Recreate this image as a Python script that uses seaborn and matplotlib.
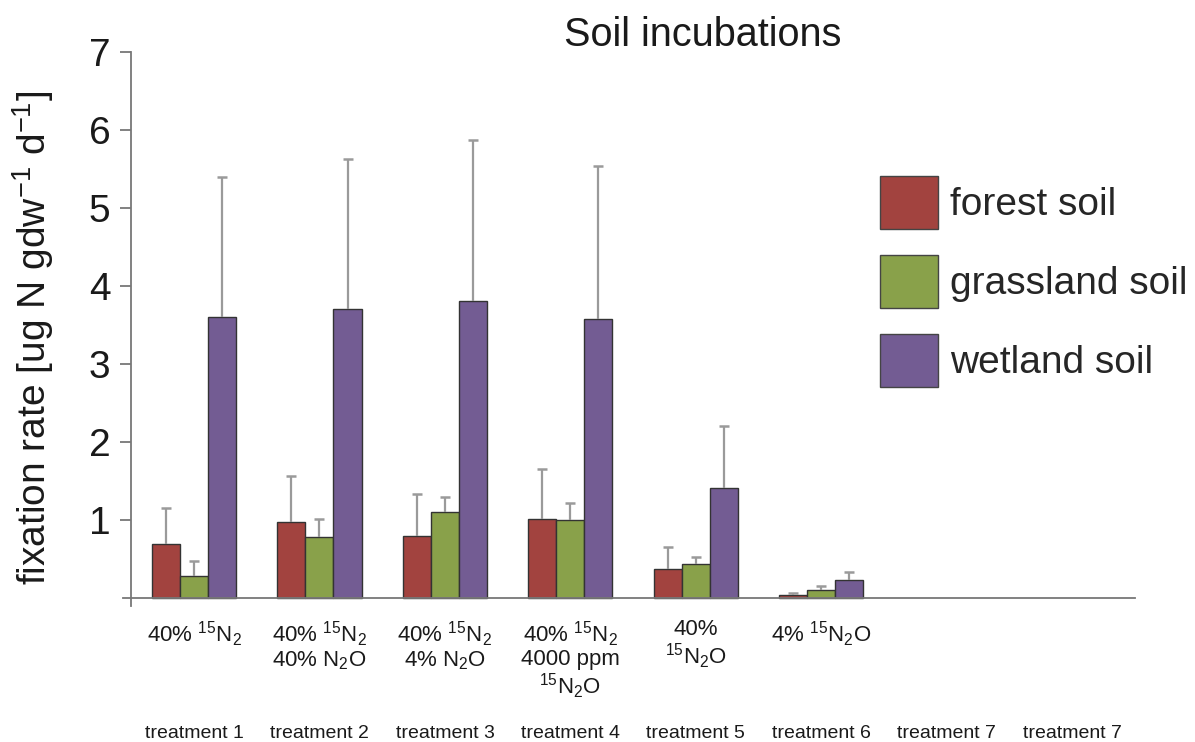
import matplotlib
matplotlib.use("Agg")
import matplotlib.pyplot as plt
import seaborn as sns
import pandas as pd
import numpy as np
from matplotlib.patches import Patch

# ---------------- data ----------------
treatments = ["treatment 1", "treatment 2", "treatment 3", "treatment 4",
              "treatment 5", "treatment 6", "treatment 7", "treatment 7 "]
descriptions = [
    r"40% $^{15}$N$_2$",
    "40% $^{15}$N$_2$\n40% N$_2$O",
    "40% $^{15}$N$_2$\n4% N$_2$O",
    "40% $^{15}$N$_2$\n4000 ppm\n$^{15}$N$_2$O",
    "40%\n$^{15}$N$_2$O",
    r"4% $^{15}$N$_2$O",
    "",
    "",
]
soils = ["forest soil", "grassland soil", "wetland soil"]
forest = [0.70, 0.97, 0.80, 1.01, 0.37, 0.04, np.nan, np.nan]
grassland = [0.28, 0.78, 1.11, 1.00, 0.44, 0.10, np.nan, np.nan]
wetland = [3.60, 3.70, 3.80, 3.58, 1.41, 0.23, np.nan, np.nan]
forest_err = [0.45, 0.60, 0.53, 0.64, 0.28, 0.03, np.nan, np.nan]
grassland_err = [0.20, 0.23, 0.19, 0.22, 0.09, 0.05, np.nan, np.nan]
wetland_err = [1.80, 1.93, 2.07, 1.96, 0.79, 0.11, np.nan, np.nan]
colors = ["#A2433F", "#89A14A", "#735C93"]

# ---------------- style ----------------
sns.set_theme(style="white")
plt.rcParams["font.family"] = ["Liberation Sans", "DejaVu Sans"]
plt.rcParams["mathtext.fontset"] = "custom"
plt.rcParams["mathtext.rm"] = "Liberation Sans"
plt.rcParams["mathtext.it"] = "Liberation Sans:italic"
plt.rcParams["mathtext.default"] = "regular"

rows = []
for i, t in enumerate(treatments):
    for s, vals in zip(soils, [forest, grassland, wetland]):
        rows.append({"treatment": t, "soil": s, "value": vals[i]})
df = pd.DataFrame(rows)

fig = plt.figure(figsize=(11.95, 7.42), dpi=100)
# x from -0.57 to 7.5 -> px 122.5..1135 ; y from -0.1 to 7 -> px 606..51.6
ax = fig.add_axes([122.5 / 1195, 1 - 606 / 742, (1135 - 122.5) / 1195, (606 - 51.6) / 742])

sns.barplot(data=df, x="treatment", y="value", hue="soil", order=treatments,
            hue_order=soils, palette=colors, width=0.67, gap=0,
            edgecolor="#333333", linewidth=1.0, legend=False, ax=ax, errorbar=None,
            saturation=1)

# one-sided (upward) error bars at bar centers
errs = [forest_err, grassland_err, wetland_err]
for cont, err in zip(ax.containers, errs):
    xs, ys, es = [], [], []
    for bar, e in zip(cont.patches, err):
        h = bar.get_height()
        if np.isnan(h) or np.isnan(e):
            continue
        xs.append(bar.get_x() + bar.get_width() / 2)
        ys.append(h)
        es.append(e)
    es = np.array(es)
    _, caps, _ = ax.errorbar(xs, ys, yerr=[np.zeros_like(es), es], fmt="none",
                             ecolor="#9a9a9a", elinewidth=1.6, capsize=3.5,
                             capthick=1.8, zorder=1)
    caps[0].set_visible(False)
    caps[1].set_color("#555555")

ax.set_xlim(-0.57, 7.5)
ax.set_ylim(-0.1, 7)
ax.spines["left"].set_position(("data", -0.5))
ax.spines["bottom"].set_position(("data", 0))
for side in ["top", "right"]:
    ax.spines[side].set_visible(False)
for side in ["left", "bottom"]:
    ax.spines[side].set_color("#777777")
    ax.spines[side].set_linewidth(1.3)

ax.set_yticks([1, 2, 3, 4, 5, 6, 7])
ax.set_yticklabels(["1", "2", "3", "4", "5", "6", "7"])
ax.tick_params(axis="y", which="both", left=True, direction="out", length=8,
               width=1.3, color="#777777", labelsize=28, pad=7, labelcolor="#1a1a1a")

ax.set_xticks(range(len(treatments)))
ax.set_xticklabels(descriptions, fontsize=16, linespacing=1.05, color="#1a1a1a")
ax.tick_params(axis="x", bottom=False, pad=9)
for lab in ax.get_xticklabels():
    lab.set_va("top")
ax.set_xlabel("")
ax.set_ylabel("")

# treatment names below
trans = ax.get_xaxis_transform()
for i, t in enumerate(treatments):
    ax.text(i, (606 - 733) / (606 - 51.6), t.strip(), transform=trans, ha="center",
            va="center", fontsize=14, color="#1a1a1a")

# y label and title
fig.text(33 / 1195, 1 - 338 / 742, "fixation rate [ug N gdw$^{-1}$ d$^{-1}$]",
         rotation=90, ha="center", va="center", fontsize=28, color="#1a1a1a")
fig.text(703 / 1195, 1 - 35 / 742, "Soil incubations", ha="center", va="center",
         fontsize=28.5, color="#1a1a1a")

# legend
handles = [Patch(facecolor=c, edgecolor="#444444", linewidth=1.0) for c in colors]
fig.legend(handles, soils, loc="upper left", bbox_to_anchor=(880 / 1195, 1 - 176 / 742),
           frameon=False, fontsize=28, handlelength=1.49, handleheight=1.72,
           handletextpad=0.3, labelspacing=0.67, borderpad=0, borderaxespad=0)

fig.savefig("out.png", dpi=100)
